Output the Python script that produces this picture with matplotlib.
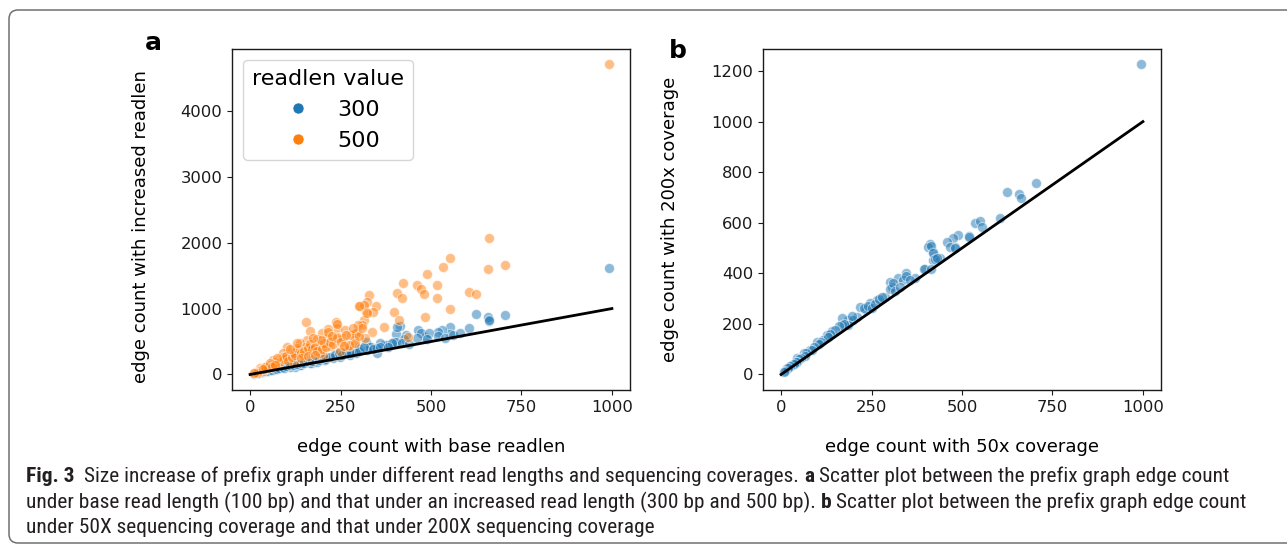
import matplotlib
matplotlib.use("Agg")
import matplotlib.pyplot as plt
from matplotlib import font_manager
from matplotlib.lines import Line2D
from matplotlib.patches import FancyBboxPatch
from matplotlib.transforms import IdentityTransform

# panel a: edge count with base readlen vs increased readlen
a_x_500 = [993, 661, 552, 534, 490, 705, 657, 422, 517, 462, 473, 480, 406, 420, 516,
           606, 623, 330, 324, 348, 304, 321, 553, 483, 399, 412, 314, 309, 370, 337,
           295, 272, 317, 155, 237, 239, 166, 198, 216, 263, 243, 437, 316, 341, 299,
           302, 322, 293, 288, 274, 249, 221, 193, 212, 184, 157, 138, 133, 110, 101,
           83, 64, 55, 28, 120, 166, 202, 175, 216, 258, 193, 152, 92, 74,
           10, 15, 20, 25, 30, 35, 40, 45, 50, 60, 65, 70, 80, 85, 90, 95, 100, 105,
           115, 120, 125, 130, 140, 145, 150, 160, 165, 170, 180, 185, 200, 205, 210,
           220, 230, 240, 250, 260, 280, 290, 240, 300, 310, 285, 265, 225, 195, 175,
           130, 110, 75, 40, 20, 12, 35, 55, 60, 70, 140, 160, 180]
a_y_500 = [4707, 2071, 1773, 1632, 1521, 1662, 1597, 1385, 1354, 1354, 1294, 1223, 1233, 1157, 1157,
           1258, 1223, 1212, 1097, 1045, 1045, 945, 991, 879, 945, 829, 829, 753, 727, 652,
           652, 439, 561, 798, 803, 703, 667, 627, 688, 677, 576, 576, 1056, 955, 753,
           1041, 939, 627, 526, 450, 349, 435, 450, 551, 536, 526, 476, 374, 324, 424,
           248, 223, 147, 97, 197, 324, 273, 424, 652, 551, 324, 424, 324, 173,
           20, 35, 40, 60, 70, 55, 90, 110, 100, 130, 160, 190, 170, 210, 260, 230, 280, 210,
           260, 330, 290, 400, 330, 300, 360, 400, 470, 380, 420, 350, 380, 480, 420,
           500, 470, 560, 500, 430, 600, 480, 760, 580, 700, 700, 600, 590, 520, 560,
           480, 380, 250, 120, 30, 15, 85, 170, 110, 150, 250, 280, 300]

a_x_300 = [993, 623, 658, 661, 705, 606, 553, 553, 530, 518, 483, 464, 472, 495, 431,
           414, 402, 399, 425, 370, 333, 321, 298, 274, 234, 205, 170, 141, 123, 405,
           403, 378, 359, 331, 322, 304, 285, 267, 249, 230, 207, 184, 166, 207, 249,
           276, 293, 350, 138, 110, 64, 350, 391, 660,
           10, 15, 20, 25, 30, 35, 40, 45, 50, 55, 60, 70, 75, 80, 90, 95, 100, 110,
           120, 130, 140, 150, 160, 170, 180, 190, 200, 210, 220, 235, 245, 255, 265,
           280, 300, 315, 340, 360, 380, 420, 440, 460, 490, 520, 540, 560, 580]
a_y_300 = [1621, 915, 870, 818, 905, 703, 727, 612, 677, 637, 566, 677, 627, 627, 601,
           738, 612, 500, 536, 450, 424, 500, 400, 349, 309, 223, 173, 147, 121, 720,
           500, 450, 476, 424, 374, 385, 349, 324, 298, 248, 220, 195, 180, 230, 262,
           290, 324, 324, 150, 120, 70, 400, 476, 830,
           12, 18, 25, 30, 38, 40, 50, 55, 60, 70, 72, 85, 90, 100, 110, 105, 130, 140,
           150, 160, 170, 180, 200, 210, 230, 220, 250, 270, 260, 290, 330, 300, 340,
           330, 360, 420, 380, 420, 420, 480, 470, 560, 540, 580, 560, 600, 630]

# panel b: edge count with 50x coverage vs 200x coverage
b_x = [994, 705, 624, 657, 663, 606, 535, 550, 555, 518, 490, 475, 459, 481, 467,
       412, 405, 420, 421, 440, 398, 394, 371, 346, 324, 338, 302, 306, 288, 265,
       246, 235, 219, 209, 186, 168, 186, 168, 140, 126, 117, 99, 80, 62, 43, 30, 16,
       230, 240, 250, 260, 270, 280, 300, 310, 315, 330, 345, 355, 200, 195, 175, 160,
       150, 135, 130, 110, 105, 90, 85, 70, 65, 55, 50, 45, 40, 35, 25, 20, 12, 8,
       415, 420, 425, 430, 520, 480, 415]
b_y = [1227, 756, 722, 713, 696, 620, 600, 608, 584, 548, 552, 538, 523, 505, 505,
       516, 505, 484, 453, 460, 417, 417, 380, 400, 383, 374, 367, 347, 308, 295,
       282, 255, 268, 229, 216, 223, 196, 196, 170, 157, 137, 130, 97, 84, 65, 38, 25,
       262, 270, 262, 280, 300, 305, 340, 360, 330, 345, 390, 372, 215, 230, 200, 190,
       175, 160, 150, 130, 120, 110, 95, 85, 72, 65, 60, 50, 48, 42, 32, 25, 15, 10,
       510, 480, 455, 460, 545, 500, 418]

diag = [0, 1000]

readlen_labels = ["300", "500"]
legend_title = "readlen value"

caption_lines = [
    [("Fig. 3", True), ("  ", None),
     ("Size increase of prefix graph under different read lengths and sequencing coverages.", False),
     (" ", None), ("a", True), (" ", None),
     ("Scatter plot between the prefix graph edge count", False)],
    [("under base read length (100 bp) and that under an increased read length (300 bp and 500 bp).", False),
     (" ", None), ("b", True), (" ", None),
     ("Scatter plot between the prefix graph edge count", False)],
    [("under 50X sequencing coverage and that under 200X sequencing coverage", False)],
]

BLUE = "#1f77b4"
ORANGE = "#ff7f0e"
W, H = 1287, 546


def pick_caption_font():
    names = {f.name for f in font_manager.fontManager.ttflist}
    for cand in ["Liberation Sans Narrow", "Roboto Condensed", "Open Sans Condensed",
                 "Noto Sans Condensed", "Open Sans", "Noto Sans"]:
        if cand in names:
            return cand
    return "DejaVu Sans"


def style_axes(ax):
    for spine in ax.spines.values():
        spine.set_color("#1a1a1a")
        spine.set_linewidth(1.0)
    ax.tick_params(axis="both", labelsize=11.8, colors="#1a1a1a")


def scatter(ax, xs, ys, color):
    ax.scatter(xs, ys, s=52, color=color, alpha=0.5, edgecolors="white", linewidths=0.75)


def draw_caption(fig, renderer, family, size):
    texts = []
    widest = 0
    baselines = [482, 508, 533]
    space_w = None
    for line, base in zip(caption_lines, baselines):
        x = 26
        for txt, bold in line:
            if bold is None:
                if space_w is None:
                    probe = fig.text(0, 0, "n n", fontsize=size, family=family)
                    probe2 = fig.text(0, 0, "nn", fontsize=size, family=family)
                    space_w = (probe.get_window_extent(renderer).width
                               - probe2.get_window_extent(renderer).width)
                    probe.remove()
                    probe2.remove()
                x += space_w * len(txt)
                continue
            t = fig.text(x / W, 1 - base / H, txt, fontsize=size, family=family,
                         fontweight="bold" if bold else "normal", color="#231f20",
                         ha="left", va="baseline")
            x += t.get_window_extent(renderer).width
            texts.append(t)
        widest = max(widest, x - 26)
    return texts, widest


fig = plt.figure(figsize=(W / 100, H / 100), dpi=100, facecolor="white")

ax_a = fig.add_axes([232 / W, 1 - 390 / H, 398 / W, 341.3 / H])
ax_b = fig.add_axes([763 / W, 1 - 390 / H, 398 / W, 341.3 / H])

# panel a
scatter(ax_a, a_x_300, a_y_300, BLUE)
scatter(ax_a, a_x_500, a_y_500, ORANGE)
ax_a.plot(diag, diag, color="black", linewidth=2.0)
style_axes(ax_a)
ax_a.set_xticks([0, 250, 500, 750, 1000])
ax_a.set_xlabel("edge count with base readlen", fontsize=13)
ax_a.set_ylabel("edge count with increased readlen", fontsize=13)
ax_a.xaxis.set_label_coords(0.5, -0.14)
ax_a.yaxis.set_label_coords(-0.206, 0.48)
handles = [Line2D([], [], marker="o", linestyle="none", markersize=8,
                  markerfacecolor=c, markeredgecolor="white", markeredgewidth=0.5)
           for c in (BLUE, ORANGE)]
ax_a.legend(handles, readlen_labels, title=legend_title, loc="upper left",
            fontsize=16, title_fontsize=16, borderaxespad=0.5)

# panel b
scatter(ax_b, b_x, b_y, BLUE)
ax_b.plot(diag, diag, color="black", linewidth=2.0)
style_axes(ax_b)
ax_b.set_xticks([0, 250, 500, 750, 1000])
ax_b.set_xlabel("edge count with 50x coverage", fontsize=13)
ax_b.set_ylabel("edge count with 200x coverage", fontsize=13)
ax_b.xaxis.set_label_coords(0.5, -0.14)
ax_b.yaxis.set_label_coords(-0.211, 0.5)

fig.text(145 / W, 1 - 50 / H, "a", fontsize=18, fontweight="bold", ha="left", va="baseline")
fig.text(669 / W, 1 - 58 / H, "b", fontsize=18, fontweight="bold", ha="left", va="baseline")

# frame around the figure, open to the right
frame = FancyBboxPatch((9, H - 543), 1400, 533, boxstyle="round,pad=0,rounding_size=9",
                       transform=IdentityTransform(), facecolor="none",
                       edgecolor="#707070", linewidth=1.1)
fig.patches.append(frame)

# caption, fitted to the measured line width
renderer = fig.canvas.get_renderer()
family = pick_caption_font()
texts, width = draw_caption(fig, renderer, family, 12)
for t in texts:
    t.remove()
size = 12 * 1217 / width
draw_caption(fig, renderer, family, size)

fig.savefig("out.png", dpi=100, facecolor="white")
plt.close(fig)
